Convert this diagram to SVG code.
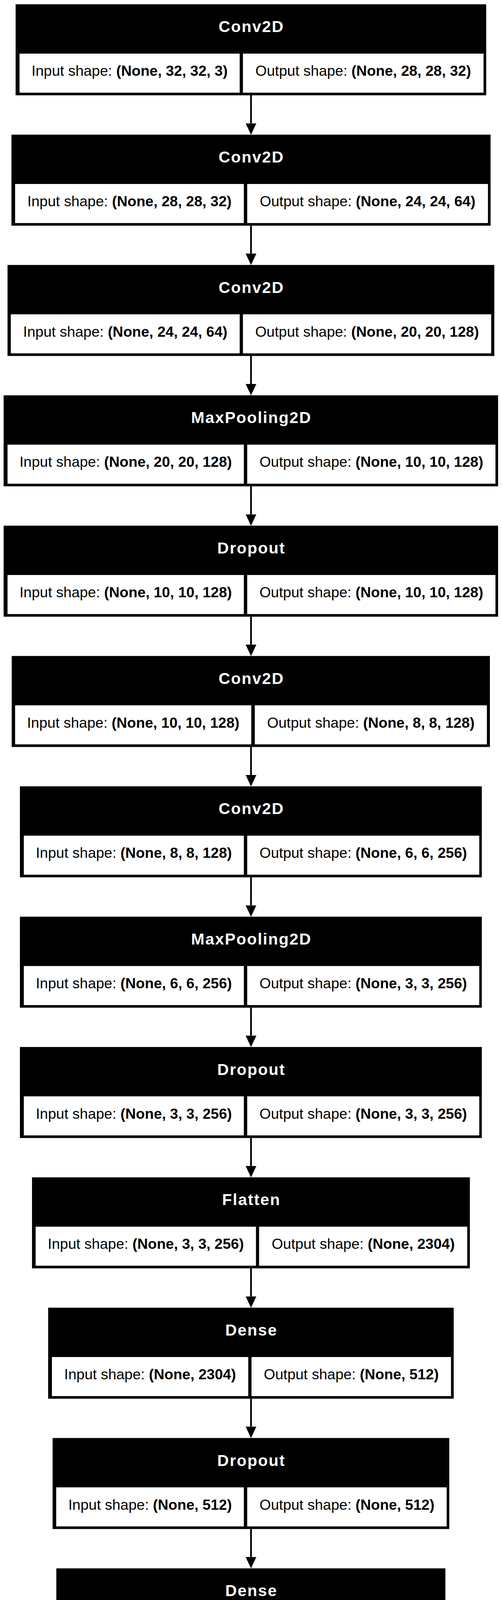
<svg xmlns="http://www.w3.org/2000/svg" width="1286" height="4256" viewBox="0 0 1286 4256">
<style>
.box{fill:#000;}
.cell{fill:#fff;}
.hd{font-family:"Liberation Sans",Arial,sans-serif;font-size:41px;font-weight:bold;fill:#fff;text-anchor:middle;letter-spacing:2.2px;}
.tx{font-family:"Liberation Sans",Arial,sans-serif;font-size:37.5px;fill:#000;text-anchor:middle;}
.b{font-weight:bold;}
.edge{stroke:#000;stroke-width:4.5;fill:none;marker-end:url(#ah);}
</style>
<defs>
<marker id="ah" markerUnits="userSpaceOnUse" viewBox="0 0 29 27.4" refX="0" refY="13.7" markerWidth="29" markerHeight="27.4" orient="auto">
<path d="M0,0 L29,13.7 L0,27.4 z" fill="#000"/>
</marker>
</defs>
<rect width="1286" height="4256" fill="#fff"/>
<g id="connectors">
<path class="edge" d="M643,244 V315.7"/>
<path class="edge" d="M643,577.7 V649.3"/>
<path class="edge" d="M643,911.3 V983"/>
<path class="edge" d="M643,1245 V1316.7"/>
<path class="edge" d="M643,1578.7 V1650.3"/>
<path class="edge" d="M643,1912.3 V1984"/>
<path class="edge" d="M643,2246 V2317.7"/>
<path class="edge" d="M643,2579.7 V2651.3"/>
<path class="edge" d="M643,2913.3 V2985"/>
<path class="edge" d="M643,3247 V3318.7"/>
<path class="edge" d="M643,3580.7 V3652.3"/>
<path class="edge" d="M643,3914.3 V3986"/>
</g>
<g id="node1" transform="translate(0,11)">
<rect class="box" x="40" y="0" width="1205.5" height="233"/>
<rect class="cell" x="50" y="126.3" width="564" height="100"/>
<rect class="cell" x="622.3" y="126.3" width="616.4" height="100"/>
<text class="hd" x="644" y="71.3">Conv2D</text>
<text class="tx" x="332" y="183.3">Input shape: <tspan class="b">(None, 32, 32, 3)</tspan></text>
<text class="tx" x="930.5" y="183.3">Output shape: <tspan class="b">(None, 28, 28, 32)</tspan></text>
</g>
<g id="node2" transform="translate(0,344.7)">
<rect class="box" x="29.3" y="0" width="1227.4" height="233"/>
<rect class="cell" x="38.7" y="126.3" width="586" height="100"/>
<rect class="cell" x="633.3" y="126.3" width="616.7" height="100"/>
<text class="hd" x="644" y="71.3">Conv2D</text>
<text class="tx" x="331.7" y="183.3">Input shape: <tspan class="b">(None, 28, 28, 32)</tspan></text>
<text class="tx" x="941.7" y="183.3">Output shape: <tspan class="b">(None, 24, 24, 64)</tspan></text>
</g>
<g id="node3" transform="translate(0,678.3)">
<rect class="box" x="19.3" y="0" width="1247" height="233"/>
<rect class="cell" x="27.7" y="126.3" width="586.3" height="100"/>
<rect class="cell" x="622.3" y="126.3" width="636" height="100"/>
<text class="hd" x="644" y="71.3">Conv2D</text>
<text class="tx" x="320.9" y="183.3">Input shape: <tspan class="b">(None, 24, 24, 64)</tspan></text>
<text class="tx" x="940.3" y="183.3">Output shape: <tspan class="b">(None, 20, 20, 128)</tspan></text>
</g>
<g id="node4" transform="translate(0,1012)">
<rect class="box" x="9.3" y="0" width="1266.7" height="233"/>
<rect class="cell" x="19.3" y="126.3" width="605.4" height="100"/>
<rect class="cell" x="633.3" y="126.3" width="636" height="100"/>
<text class="hd" x="644" y="71.3">MaxPooling2D</text>
<text class="tx" x="322" y="183.3">Input shape: <tspan class="b">(None, 20, 20, 128)</tspan></text>
<text class="tx" x="951.3" y="183.3">Output shape: <tspan class="b">(None, 10, 10, 128)</tspan></text>
</g>
<g id="node5" transform="translate(0,1345.7)">
<rect class="box" x="9.3" y="0" width="1266.7" height="233"/>
<rect class="cell" x="19.3" y="126.3" width="605.4" height="100"/>
<rect class="cell" x="633.3" y="126.3" width="636" height="100"/>
<text class="hd" x="644" y="71.3">Dropout</text>
<text class="tx" x="322" y="183.3">Input shape: <tspan class="b">(None, 10, 10, 128)</tspan></text>
<text class="tx" x="951.3" y="183.3">Output shape: <tspan class="b">(None, 10, 10, 128)</tspan></text>
</g>
<g id="node6" transform="translate(0,1679.3)">
<rect class="box" x="30" y="0" width="1225" height="233"/>
<rect class="cell" x="38.7" y="126.3" width="605" height="100"/>
<rect class="cell" x="652.7" y="126.3" width="594.6" height="100"/>
<text class="hd" x="644" y="71.3">Conv2D</text>
<text class="tx" x="341.2" y="183.3">Input shape: <tspan class="b">(None, 10, 10, 128)</tspan></text>
<text class="tx" x="950" y="183.3">Output shape: <tspan class="b">(None, 8, 8, 128)</tspan></text>
</g>
<g id="node7" transform="translate(0,2013)">
<rect class="box" x="51" y="0" width="1183.3" height="233"/>
<rect class="cell" x="61" y="126.3" width="563.7" height="100"/>
<rect class="cell" x="633.3" y="126.3" width="594.4" height="100"/>
<text class="hd" x="644" y="71.3">Conv2D</text>
<text class="tx" x="342.9" y="183.3">Input shape: <tspan class="b">(None, 8, 8, 128)</tspan></text>
<text class="tx" x="930.5" y="183.3">Output shape: <tspan class="b">(None, 6, 6, 256)</tspan></text>
</g>
<g id="node8" transform="translate(0,2346.7)">
<rect class="box" x="51" y="0" width="1183.3" height="233"/>
<rect class="cell" x="61" y="126.3" width="563.7" height="100"/>
<rect class="cell" x="633.3" y="126.3" width="594.4" height="100"/>
<text class="hd" x="644" y="71.3">MaxPooling2D</text>
<text class="tx" x="342.9" y="183.3">Input shape: <tspan class="b">(None, 6, 6, 256)</tspan></text>
<text class="tx" x="930.5" y="183.3">Output shape: <tspan class="b">(None, 3, 3, 256)</tspan></text>
</g>
<g id="node9" transform="translate(0,2680.3)">
<rect class="box" x="51" y="0" width="1183.3" height="233"/>
<rect class="cell" x="61" y="126.3" width="563.7" height="100"/>
<rect class="cell" x="633.3" y="126.3" width="594.4" height="100"/>
<text class="hd" x="644" y="71.3">Dropout</text>
<text class="tx" x="342.9" y="183.3">Input shape: <tspan class="b">(None, 3, 3, 256)</tspan></text>
<text class="tx" x="930.5" y="183.3">Output shape: <tspan class="b">(None, 3, 3, 256)</tspan></text>
</g>
<g id="node10" transform="translate(0,3014)">
<rect class="box" x="82" y="0" width="1121.7" height="233"/>
<rect class="cell" x="91.3" y="126.3" width="564.4" height="100"/>
<rect class="cell" x="663.7" y="126.3" width="533.3" height="100"/>
<text class="hd" x="644" y="71.3">Flatten</text>
<text class="tx" x="373.5" y="183.3">Input shape: <tspan class="b">(None, 3, 3, 256)</tspan></text>
<text class="tx" x="930.4" y="183.3">Output shape: <tspan class="b">(None, 2304)</tspan></text>
</g>
<g id="node11" transform="translate(0,3347.7)">
<rect class="box" x="123.3" y="0" width="1039" height="233"/>
<rect class="cell" x="133" y="126.3" width="503" height="100"/>
<rect class="cell" x="644.3" y="126.3" width="511" height="100"/>
<text class="hd" x="644" y="71.3">Dense</text>
<text class="tx" x="384.5" y="183.3">Input shape: <tspan class="b">(None, 2304)</tspan></text>
<text class="tx" x="899.8" y="183.3">Output shape: <tspan class="b">(None, 512)</tspan></text>
</g>
<g id="node12" transform="translate(0,3681.3)">
<rect class="box" x="134.7" y="0" width="1016.3" height="233"/>
<rect class="cell" x="144" y="126.3" width="480.7" height="100"/>
<rect class="cell" x="633.3" y="126.3" width="511" height="100"/>
<text class="hd" x="644" y="71.3">Dropout</text>
<text class="tx" x="384.4" y="183.3">Input shape: <tspan class="b">(None, 512)</tspan></text>
<text class="tx" x="888.8" y="183.3">Output shape: <tspan class="b">(None, 512)</tspan></text>
</g>
<g id="node13" transform="translate(0,4015)">
<rect class="box" x="144.3" y="0" width="996.7" height="233"/>
<rect class="cell" x="152.7" y="126.3" width="480.3" height="100"/>
<rect class="cell" x="641.7" y="126.3" width="491.6" height="100"/>
<text class="hd" x="644" y="71.3">Dense</text>
<text class="tx" x="392.9" y="183.3">Input shape: <tspan class="b">(None, 512)</tspan></text>
<text class="tx" x="887.5" y="183.3">Output shape: <tspan class="b">(None, 43)</tspan></text>
</g>
</svg>
